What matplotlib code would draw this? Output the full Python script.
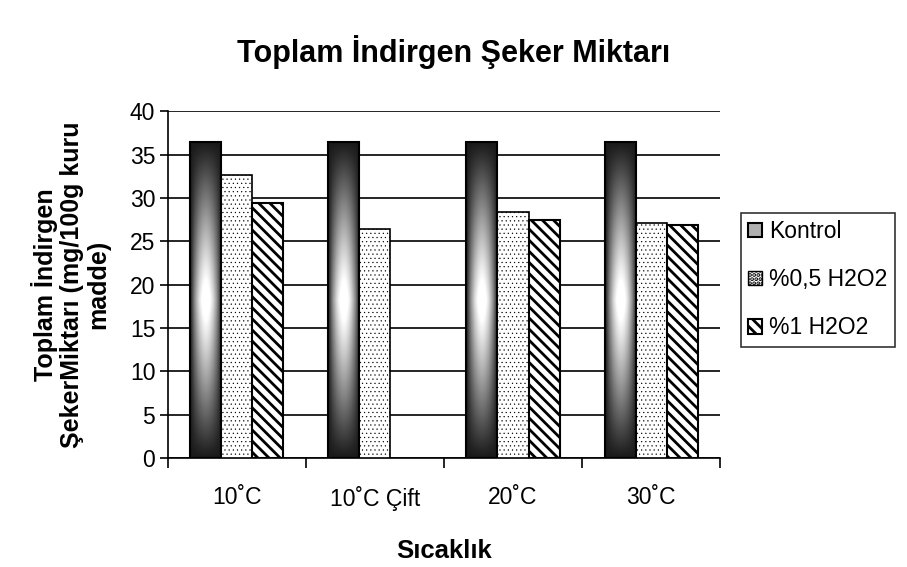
import matplotlib
matplotlib.use("Agg")
import matplotlib.pyplot as plt
import numpy as np
from matplotlib.patches import Patch

plt.rcParams['font.family'] = ['Liberation Sans', 'DejaVu Sans']
plt.rcParams['hatch.linewidth'] = 2.0

# ── data ──────────────────────────────────────────────────────────
categories = ["10˚C", "10˚C Çift", "20˚C", "30˚C"]
series_names = ["Kontrol", "%0,5 H2O2", "%1 H2O2"]
kontrol = [36.4, 36.4, 36.4, 36.4]
h2o2_05 = [32.6, 26.4, 28.4, 27.1]
h2o2_1 = [29.4, np.nan, 27.4, 26.9]
yticks = [0, 5, 10, 15, 20, 25, 30, 35, 40]


def gradient_image(n=200):
    u = np.linspace(-1, 1, 40)
    v = np.linspace(-1, 1, n)
    U, V = np.meshgrid(u, v)
    b = (1 - np.abs(U) ** 1.8) * (1 - np.abs(V) ** 1.1)
    return np.clip(0.1 + b * 1.0, 0, 1)


def thin_hatch(patches, lw):
    for p in patches:
        if hasattr(p, "set_hatch_linewidth"):
            p.set_hatch_linewidth(lw)


fig = plt.figure(figsize=(9.07, 5.67), dpi=100)
ax = fig.add_axes([0.185, 0.192, 0.609, 0.612])

x = np.arange(len(categories))
w = 0.225
grad = gradient_image()

# Kontrol bars with gradient fill
bars_k = ax.bar(x - w, kontrol, w, facecolor="none", edgecolor="black",
                linewidth=1.5, zorder=4)
for b in bars_k:
    x0, y0 = b.get_x(), b.get_y()
    ax.imshow(grad, cmap="gray", vmin=0, vmax=1, aspect="auto",
              extent=[x0, x0 + b.get_width(), y0, y0 + b.get_height()],
              zorder=3, interpolation="bilinear")

bars_05 = ax.bar(x, h2o2_05, w, facecolor="white", edgecolor="black",
                 hatch="....", linewidth=1.2, zorder=3)
thin_hatch(bars_05, 0.35)
ax.bar(x + w, h2o2_1, w, facecolor="white", edgecolor="black", hatch="\\\\\\",
       linewidth=1.5, zorder=3)

ax.set_xlim(-0.5, len(categories) - 0.5)
ax.set_ylim(0, 40)
ax.set_yticks(yticks)
ax.yaxis.grid(True, color="black", linewidth=1.2)
ax.set_axisbelow(True)

ax.set_xticks(x)
ax.set_xticklabels(categories, fontsize=16.5)
ax.tick_params(axis="x", length=0, pad=20)
ax.set_xticks(np.arange(len(categories) + 1) - 0.5, minor=True)
ax.tick_params(axis="x", which="minor", length=7, width=1.2, direction="out")
ax.tick_params(axis="y", labelsize=16.5, length=6, width=1.2, direction="out",
               pad=3)

for s in ["top", "right"]:
    ax.spines[s].set_visible(False)
for s in ["left", "bottom"]:
    ax.spines[s].set_linewidth(1.2)

ax.set_xlabel("Sıcaklık", fontsize=18.5, fontweight="bold", labelpad=20)
ax.set_ylabel("Toplam İndirgen\nŞekerMiktarı (mg/100g kuru\nmadde)",
              fontsize=18, fontweight="bold", labelpad=14, linespacing=1.12)
fig.text(0.5, 0.908, "Toplam İndirgen Şeker Miktarı", ha="center",
         va="center", fontsize=22, fontweight="bold")

p_dot = Patch(facecolor="white", edgecolor="black", hatch="....", linewidth=1)
thin_hatch([p_dot], 0.35)
handles = [
    Patch(facecolor="#b0b0b0", edgecolor="black", linewidth=1.5),
    p_dot,
    Patch(facecolor="white", edgecolor="black", hatch="\\\\\\", linewidth=1.5),
]
leg = fig.legend(handles, series_names, loc="upper left",
                 bbox_to_anchor=(0.817, 0.625), fontsize=16.5, frameon=True,
                 fancybox=False, edgecolor="black", handlelength=0.6,
                 handleheight=0.6, handletextpad=0.3, labelspacing=1.1,
                 borderpad=0.32, borderaxespad=0)
leg.get_frame().set_linewidth(1.2)

fig.savefig("out.png", dpi=100)
